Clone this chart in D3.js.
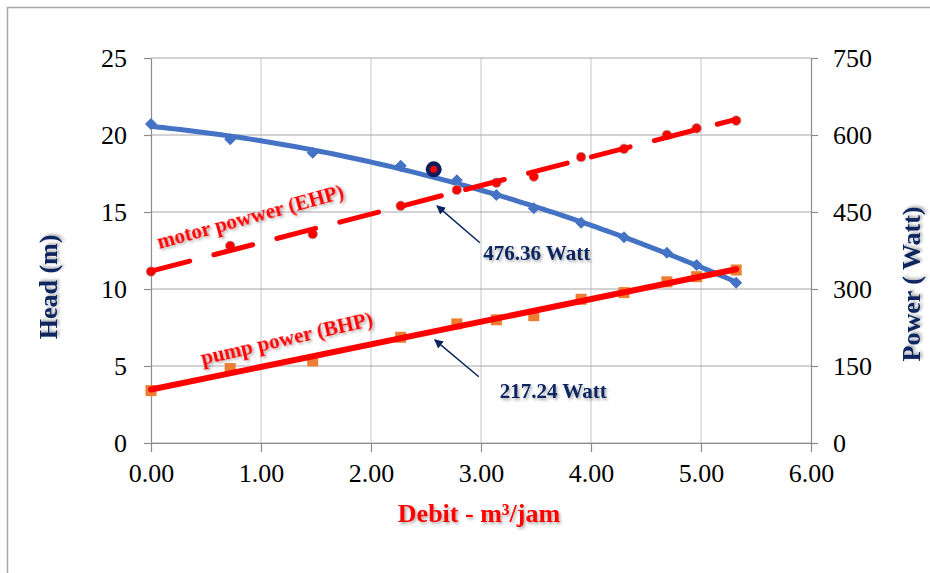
<!DOCTYPE html>
<html>
<head>
<meta charset="utf-8">
<script src="https://cdn.jsdelivr.net/npm/d3@7/dist/d3.min.js"></script>
<style>
  body { margin: 0; background: #fff; }
  svg { display: block; font-family: "Liberation Serif", "Times New Roman", serif; }
  svg text { font-family: "Liberation Serif", "Times New Roman", serif; }
</style>
</head>
<body>
<div id="chart"></div>
<script>
// data
const debit = [0, 0.72, 1.47, 2.27, 2.78, 3.14, 3.48, 3.91, 4.30, 4.69, 4.96, 5.32];
const head = [20.72, 19.72, 18.85, 18.0, 17.06, 16.1, 15.24, 14.3, 13.36, 12.36, 11.56, 10.41];
const ehp = [334, 384, 407, 462, 493, 507, 519, 557, 573, 600, 613, 628];
const bhp = [102, 145, 160, 206, 232, 240, 248, 280, 293, 314, 324, 337];

// operating point marker (head axis)
const opDebit = [2.57];
const opHead = [17.77];

const xTicks = [0, 1, 2, 3, 4, 5, 6];
const headTicks = [0, 5, 10, 15, 20, 25];
const powerTicks = [0, 150, 300, 450, 600, 750];

const W = 930, H = 573;
const svg = d3.select("#chart").append("svg").attr("width", W).attr("height", H);

// soft text shadow
const defs = svg.append("defs");
defs.append("filter").attr("id", "shadow").attr("x", "-20%").attr("y", "-40%").attr("width", "140%").attr("height", "180%")
  .append("feDropShadow").attr("dx", 1.5).attr("dy", 2).attr("stdDeviation", 1.4)
  .attr("flood-color", "#000").attr("flood-opacity", 0.35);
defs.append("marker").attr("id", "arrow").attr("viewBox", "0 0 10 10")
  .attr("refX", 9).attr("refY", 5).attr("markerWidth", 9).attr("markerHeight", 9)
  .attr("markerUnits", "userSpaceOnUse").attr("orient", "auto")
  .append("path").attr("d", "M0,0 L10,5 L0,10 Z").attr("fill", "#0B2560");

// outer frame (cut off on right and bottom)
svg.append("path").attr("d", "M7.5,573 L7.5,7.5 L930,7.5")
  .attr("fill", "none").attr("stroke", "#A6A6A6").attr("stroke-width", 1.5);

const x = d3.scaleLinear().domain([0, 6]).range([151, 811]);
const yHead = d3.scaleLinear().domain([0, 25]).range([443, 58]);
const yPow = d3.scaleLinear().domain([0, 750]).range([443, 58]);

// gridlines
svg.append("g").selectAll("line").data(xTicks.slice(1, -1)).join("line")
  .attr("x1", d => x(d)).attr("x2", d => x(d)).attr("y1", yHead(25)).attr("y2", yHead(0))
  .attr("stroke", "#C6C6C6").attr("stroke-width", 1);
svg.append("g").selectAll("line").data(headTicks).join("line")
  .attr("x1", x(0)).attr("x2", x(6)).attr("y1", d => yHead(d)).attr("y2", d => yHead(d))
  .attr("stroke", "#A6A6A6").attr("stroke-width", 1);

function styleAxis(g) {
  g.attr("font-family", null).attr("font-size", null);
  g.selectAll(".domain, .tick line").attr("stroke", "#8C8C8C").attr("stroke-width", 1.2);
  g.selectAll("text").attr("fill", "#000")
    .style("font-size", "26px")
    .style("font-family", "'Liberation Serif', 'Times New Roman', serif");
}

svg.append("g").attr("transform", `translate(${x(0)},0)`)
  .call(d3.axisLeft(yHead).tickValues(headTicks).tickSize(7).tickSizeOuter(0).tickPadding(17))
  .call(styleAxis);
svg.append("g").attr("transform", `translate(${x(6)},0)`)
  .call(d3.axisRight(yPow).tickValues(powerTicks).tickSize(7).tickSizeOuter(0).tickPadding(15))
  .call(styleAxis);
svg.append("g").attr("transform", `translate(0,${yHead(0)})`)
  .call(d3.axisBottom(x).tickValues(xTicks).tickFormat(d3.format(".2f")).tickSize(9).tickSizeOuter(0).tickPadding(12))
  .call(styleAxis);

// trendlines (least squares, like the spreadsheet trendlines)
function linFit(xs, ys) {
  const mx = d3.mean(xs), my = d3.mean(ys);
  let sxy = 0, sxx = 0;
  xs.forEach((v, i) => { sxy += (v - mx) * (ys[i] - my); sxx += (v - mx) * (v - mx); });
  const b = sxy / sxx;
  return v => my + b * (v - mx);
}
function quadFit(xs, ys) {
  // normal equations for y = a + b x + c x^2
  const s = [0, 0, 0, 0, 0], t = [0, 0, 0];
  xs.forEach((v, i) => {
    for (let k = 0; k < 5; k++) s[k] += Math.pow(v, k);
    for (let k = 0; k < 3; k++) t[k] += ys[i] * Math.pow(v, k);
  });
  const M = [[s[0], s[1], s[2], t[0]], [s[1], s[2], s[3], t[1]], [s[2], s[3], s[4], t[2]]];
  for (let c = 0; c < 3; c++) {
    for (let r = c + 1; r < 3; r++) {
      const f = M[r][c] / M[c][c];
      for (let k = c; k < 4; k++) M[r][k] -= f * M[c][k];
    }
  }
  const p = [0, 0, 0];
  for (let r = 2; r >= 0; r--) {
    let v = M[r][3];
    for (let k = r + 1; k < 3; k++) v -= M[r][k] * p[k];
    p[r] = v / M[r][r];
  }
  return v => p[0] + p[1] * v + p[2] * v * v;
}

const xs = d3.range(0, 101).map(i => d3.min(debit) + (d3.max(debit) - d3.min(debit)) * i / 100);
const headFit = quadFit(debit, head);
const ehpFit = linFit(debit, ehp);
const bhpFit = linFit(debit, bhp);

// head curve
svg.append("path").datum(xs)
  .attr("d", d3.line().x(d => x(d)).y(d => yHead(headFit(d))))
  .attr("fill", "none").attr("stroke", "#4472C4").attr("stroke-width", 5).attr("stroke-linecap", "round");
svg.append("g").selectAll("path").data(debit).join("path")
  .attr("d", "M0,-6L6,0L0,6L-6,0Z")
  .attr("transform", (d, i) => `translate(${x(d)},${yHead(head[i])})`)
  .attr("fill", "#4472C4");

// BHP points and line
svg.append("g").selectAll("rect").data(debit).join("rect")
  .attr("x", d => x(d) - 5.5).attr("y", (d, i) => yPow(bhp[i]) - 5.5)
  .attr("width", 11).attr("height", 11).attr("fill", "#ED7D31");
svg.append("path").datum([d3.min(debit), d3.max(debit)])
  .attr("d", d3.line().x(d => x(d)).y(d => yPow(bhpFit(d))))
  .attr("fill", "none").attr("stroke", "#FF0000").attr("stroke-width", 6).attr("stroke-linecap", "round");

// EHP points and dashed line
svg.append("g").selectAll("circle").data(debit).join("circle")
  .attr("cx", d => x(d)).attr("cy", (d, i) => yPow(ehp[i])).attr("r", 4.8)
  .attr("fill", "#FF0000").attr("stroke", "#A8A8A8").attr("stroke-width", 0.8);
svg.append("path").datum([d3.min(debit), d3.max(debit)])
  .attr("d", d3.line().x(d => x(d)).y(d => yPow(ehpFit(d))))
  .attr("fill", "none").attr("stroke", "#FF0000").attr("stroke-width", 5)
  .attr("stroke-linecap", "round").attr("stroke-dasharray", "40,25");

// operating point
const op = svg.append("g").selectAll("g").data(opDebit).join("g")
  .attr("transform", (d, i) => `translate(${x(d)},${yHead(opHead[i])})`);
op.append("circle").attr("r", 8).attr("fill", "#0E1E5B");
op.append("circle").attr("r", 3.5).attr("fill", "#FF0000");

// annotations: [debit, power] anchors
const arrowFrom = [[2.99, 390], [2.98, 129]];
const arrowTo = [[2.60, 462], [2.58, 201]];
const wattLabels = ["476.36 Watt", "217.24 Watt"];
const wattPos = [[3.02, 357], [3.17, 88]];

svg.append("g").selectAll("line").data(arrowFrom).join("line")
  .attr("x1", d => x(d[0])).attr("y1", d => yPow(d[1]))
  .attr("x2", (d, i) => x(arrowTo[i][0])).attr("y2", (d, i) => yPow(arrowTo[i][1]))
  .attr("stroke", "#0B2560").attr("stroke-width", 1.5).attr("marker-end", "url(#arrow)");

svg.append("g").selectAll("text").data(wattLabels).join("text")
  .attr("x", (d, i) => x(wattPos[i][0])).attr("y", (d, i) => yPow(wattPos[i][1]))
  .attr("font-size", 21).attr("font-weight", "bold").attr("fill", "#0B2560")
  .attr("filter", "url(#shadow)").text(d => d);

// line labels
const lineLabels = ["motor powwer (EHP)", "pump power (BHP)"];
const lineLabelPos = [[0.075, 378], [0.47, 152]];
const lineLabelAngle = [-15.4, -13];
svg.append("g").selectAll("text").data(lineLabels).join("text")
  .attr("transform", (d, i) => `translate(${x(lineLabelPos[i][0])},${yPow(lineLabelPos[i][1])}) rotate(${lineLabelAngle[i]})`)
  .attr("font-size", 21).attr("font-weight", "bold").attr("fill", "#FF0000")
  .attr("filter", "url(#shadow)").text(d => d);

// axis titles
svg.append("text").attr("transform", "translate(57,287) rotate(-90)")
  .attr("text-anchor", "middle").attr("font-size", 26).attr("font-weight", "bold")
  .attr("fill", "#0B2560").attr("filter", "url(#shadow)").text("Head (m)");
svg.append("text").attr("transform", "translate(920,284) rotate(-90)")
  .attr("text-anchor", "middle").attr("font-size", 26).attr("font-weight", "bold")
  .attr("fill", "#0B2560").attr("filter", "url(#shadow)").text("Power ( Watt)");
svg.append("text").attr("x", 479).attr("y", 522)
  .attr("text-anchor", "middle").attr("font-size", 26).attr("font-weight", "bold")
  .attr("fill", "#FF0000").attr("filter", "url(#shadow)").text("Debit - m³/jam");
</script>
</body>
</html>
